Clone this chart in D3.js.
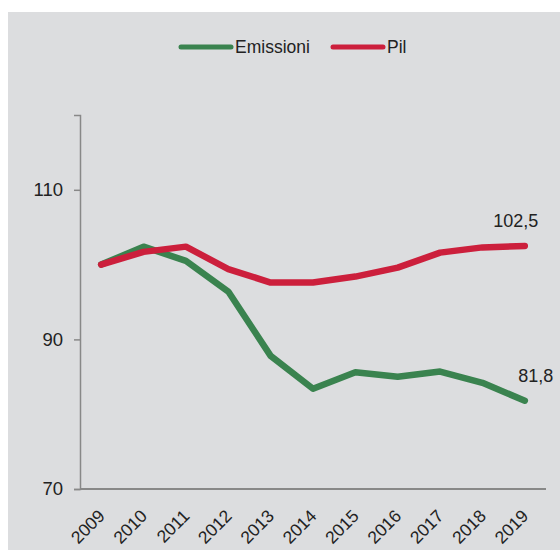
<!DOCTYPE html>
<html>
<head>
<meta charset="utf-8">
<script src="https://cdn.jsdelivr.net/npm/d3@7"></script>
<style>
  body { margin: 0; background: #fff; }
  text { font-family: "Liberation Sans", Arial, sans-serif; fill: #222; }
</style>
</head>
<body>
<script>
// data
const years = ["2009", "2010", "2011", "2012", "2013", "2014", "2015", "2016", "2017", "2018", "2019"];
const emissioni = [100, 102.4, 100.5, 96.4, 87.8, 83.4, 85.6, 85.0, 85.7, 84.2, 81.8];
const pil = [100, 101.7, 102.4, 99.4, 97.6, 97.6, 98.4, 99.6, 101.6, 102.3, 102.5];
const yTicks = [70, 90, 110];

const W = 560, H = 550;
const svg = d3.select("body").append("svg")
  .attr("width", W)
  .attr("height", H);

// grey panel
svg.append("rect")
  .attr("x", 8).attr("y", 12)
  .attr("width", W - 8).attr("height", H - 12)
  .attr("fill", "#dcdddf");

const x = d3.scalePoint().domain(years).range([80, 546]).padding(0.5);
const y = d3.scaleLinear().domain([70, 120]).range([489, 115]);

// y axis
const yAxis = svg.append("g")
  .attr("transform", "translate(80,0)")
  .call(d3.axisLeft(y).tickValues(yTicks).tickSize(6).tickPadding(11).tickFormat(d3.format("d")));
yAxis.select(".domain").attr("stroke", "#888").attr("stroke-width", 1.5);
yAxis.selectAll(".tick line").attr("stroke", "#888").attr("stroke-width", 1.5);
yAxis.selectAll("text").style("font-size", "18.5px").style("font-family", "Liberation Sans, Arial, sans-serif").attr("fill", "#222");

// x axis
const xAxis = svg.append("g")
  .attr("transform", "translate(0,489)")
  .call(d3.axisBottom(x).tickSize(0).tickSizeOuter(0));
xAxis.select(".domain").attr("stroke", "#888").attr("stroke-width", 2).attr("d", "M80,0H546");
xAxis.selectAll("text")
  .style("font-size", "17.5px")
  .style("font-family", "Liberation Sans, Arial, sans-serif")
  .attr("fill", "#222")
  .attr("text-anchor", "end")
  .attr("dy", 0)
  .attr("transform", "translate(2,26) rotate(-45)");

const line = d3.line()
  .x((d, i) => x(years[i]))
  .y(d => y(d));

svg.append("path")
  .datum(emissioni)
  .attr("d", line)
  .attr("fill", "none")
  .attr("stroke", "#3a834f")
  .attr("stroke-width", 6.5)
  .attr("stroke-linecap", "round")
  .attr("stroke-linejoin", "round");

svg.append("path")
  .datum(pil)
  .attr("d", line)
  .attr("fill", "none")
  .attr("stroke", "#cc1f3c")
  .attr("stroke-width", 6.5)
  .attr("stroke-linecap", "round")
  .attr("stroke-linejoin", "round");

// end labels
const fmt = v => d3.format(".1f")(v).replace(".", ",");
svg.append("text")
  .attr("x", x("2019") - 9).attr("y", y(pil[pil.length - 1]) - 19)
  .attr("text-anchor", "middle")
  .style("font-size", "18px")
  .text(fmt(pil[pil.length - 1]));
svg.append("text")
  .attr("x", x("2019") + 11).attr("y", y(emissioni[emissioni.length - 1]) - 19)
  .attr("text-anchor", "middle")
  .style("font-size", "18px")
  .text(fmt(emissioni[emissioni.length - 1]));

// legend
const legend = [
  { name: "Emissioni", color: "#3a834f", x0: 181 },
  { name: "Pil", color: "#cc1f3c", x0: 333 }
];
legend.forEach(l => {
  svg.append("line")
    .attr("x1", l.x0).attr("x2", l.x0 + 50)
    .attr("y1", 47).attr("y2", 47)
    .attr("stroke", l.color)
    .attr("stroke-width", 5)
    .attr("stroke-linecap", "round");
  svg.append("text")
    .attr("x", l.x0 + 54).attr("y", 53)
    .style("font-size", "17.5px")
    .text(l.name);
});
</script>
</body>
</html>
